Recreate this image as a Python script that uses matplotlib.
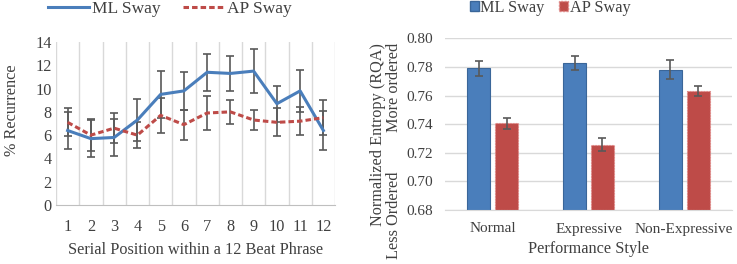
import matplotlib
matplotlib.use("Agg")
import matplotlib.pyplot as plt
import numpy as np
from matplotlib.lines import Line2D
from matplotlib.patches import Patch

plt.rcParams['font.family'] = ['Liberation Serif', 'DejaVu Serif']

# Left chart data
positions = list(range(1, 13))
ml_recurrence = [6.4, 5.7, 5.8, 7.3, 9.5, 9.8, 11.4, 11.3, 11.5, 8.7, 9.8, 6.4]
ml_rec_err = [1.6, 1.6, 1.6, 1.8, 2.0, 1.6, 1.6, 1.5, 1.9, 1.55, 1.8, 1.65]
ap_recurrence = [7.1, 6.0, 6.6, 6.0, 7.7, 6.9, 7.9, 8.0, 7.3, 7.1, 7.2, 7.5]
ap_rec_err = [1.2, 1.4, 1.3, 1.1, 1.5, 1.3, 1.45, 1.0, 0.9, 1.2, 1.2, 1.5]

# Right chart data
styles = ["Normal", "Expressive", "Non-Expressive"]
ml_entropy = [0.779, 0.7826, 0.778]
ml_ent_err = [0.005, 0.005, 0.0065]
ap_entropy = [0.7406, 0.7255, 0.7632]
ap_ent_err = [0.004, 0.0045, 0.0035]

BLUE = "#4A7EBB"
BLUE_EDGE = "#3A6699"
RED = "#BE4B48"
RED_EDGE = "#E08886"
GRID = "#D9D9D9"
TXT = "#404040"
ERR = "#595959"
FS = 11.7

W, H = 737, 264
fig = plt.figure(figsize=(W / 100, H / 100), dpi=100)

def px(x0, x1, ytop, ybot):
    return [x0 / W, 1 - ybot / H, (x1 - x0) / W, (ybot - ytop) / H]

DASH = (0, (1.8, 1.0))

# ---------------- Left chart ----------------
ax1 = fig.add_axes(px(56, 335, 42, 205))
ax1.set_xlim(0.5, 12.5)
ax1.set_ylim(0, 14)
for s in ["top", "right", "left"]:
    ax1.spines[s].set_visible(False)
ax1.spines["bottom"].set_color("#BFBFBF")
ax1.set_xticks(positions)
ax1.set_xticklabels([str(p) for p in positions])
ax1.set_xticks(np.arange(0.5, 13, 1), minor=True)
ax1.xaxis.grid(True, which="minor", color=GRID, linewidth=1)
ax1.tick_params(axis="x", which="both", length=0, labelsize=FS, colors=TXT, pad=10)
ax1.set_yticks(range(0, 15, 2))
ax1.tick_params(axis="y", length=0, labelsize=FS, colors=TXT, pad=3)

ax1.errorbar(positions, ml_recurrence, yerr=ml_rec_err, color=BLUE, lw=2.2,
             ecolor=ERR, elinewidth=1.2, capsize=3, capthick=1.2, zorder=3,
             label="ML Sway")
ax1.errorbar(positions, ap_recurrence, yerr=ap_rec_err, color=RED, lw=2.2,
             ls=DASH, ecolor=ERR, elinewidth=1.2, capsize=3,
             capthick=1.2, zorder=3, label="AP Sway")
ax1.set_xlabel("Serial Position within a 12 Beat Phrase", fontsize=FS, color=TXT,
               labelpad=5)
fig.text(12 / W, 1 - 110 / H, "% Recurrence", rotation=90, ha="center", va="center",
         fontsize=FS, color=TXT)

h1 = [Line2D([], [], color=BLUE, lw=2.2),
      Line2D([], [], color=RED, lw=2.2, ls=DASH)]
fig.legend(h1, ["ML Sway", "AP Sway"], loc="center", bbox_to_anchor=(170 / W, 1 - 9 / H),
           ncol=2, frameon=False, fontsize=12.5, handlelength=2.4, handletextpad=0.15,
           columnspacing=1.3, labelcolor=TXT, borderpad=0, borderaxespad=0)

# ---------------- Right chart ----------------
ax2 = fig.add_axes(px(445, 732, 38.3, 210))
ax2.set_xlim(-0.5, 2.5)
ax2.set_ylim(0.68, 0.80)
for s in ["top", "right", "left"]:
    ax2.spines[s].set_visible(False)
ax2.spines["bottom"].set_color(GRID)
yt = np.arange(0.68, 0.8001, 0.02)
ax2.set_yticks(yt)
ax2.set_yticklabels([f"{v:.2f}" for v in yt])
ax2.yaxis.grid(True, color=GRID, linewidth=1)
ax2.set_axisbelow(True)
ax2.tick_params(axis="y", length=0, labelsize=11, colors=TXT, pad=8.5)
ax2.tick_params(axis="x", length=0, labelsize=11, colors=TXT, pad=9)
x = np.arange(len(styles))
bw = 0.24
off = 0.145
ax2.bar(x - off, [v - 0.68 for v in ml_entropy], bottom=0.68, width=bw, color=BLUE,
        edgecolor=BLUE_EDGE, linewidth=0.8, label="ML Sway", zorder=2)
ax2.bar(x + off, [v - 0.68 for v in ap_entropy], bottom=0.68, width=bw, color=RED,
        edgecolor=RED_EDGE, linewidth=0.8, linestyle=(0, (1.5, 1)), label="AP Sway", zorder=2)
ax2.errorbar(x - off, ml_entropy, yerr=ml_ent_err, fmt="none", ecolor=ERR, elinewidth=1.2,
             capsize=2.6, capthick=1.2, zorder=3)
ax2.errorbar(x + off, ap_entropy, yerr=ap_ent_err, fmt="none", ecolor=ERR, elinewidth=1.2,
             capsize=2.6, capthick=1.2, zorder=3)
ax2.set_xticks(x)
ax2.set_xticklabels(styles)
ax2.set_xlabel("Performance Style", fontsize=FS, color=TXT, labelpad=4)

fig.text(378 / W, 1 - 135 / H, "Normalized Entropy (RQA)", rotation=90, ha="center",
         va="center", fontsize=FS, color=TXT)
fig.text(394 / W, 1 - 87 / H, "More ordered", rotation=90, ha="center", va="center",
         fontsize=FS, color=TXT)
fig.text(394 / W, 1 - 215 / H, "Less Ordered", rotation=90, ha="center", va="center",
         fontsize=FS, color=TXT)

h2 = [Patch(facecolor=BLUE, edgecolor=BLUE_EDGE),
      Patch(facecolor=RED, edgecolor=RED_EDGE, linestyle=(0, (1.5, 1)))]
fig.legend(h2, ["ML Sway", "AP Sway"], loc="center", bbox_to_anchor=(550 / W, 1 - 8 / H),
           ncol=2, frameon=False, fontsize=FS, handlelength=0.55, handleheight=0.55,
           handletextpad=0.1, columnspacing=0.9, labelcolor=TXT, borderpad=0,
           borderaxespad=0)

fig.savefig("out.png", dpi=100)
